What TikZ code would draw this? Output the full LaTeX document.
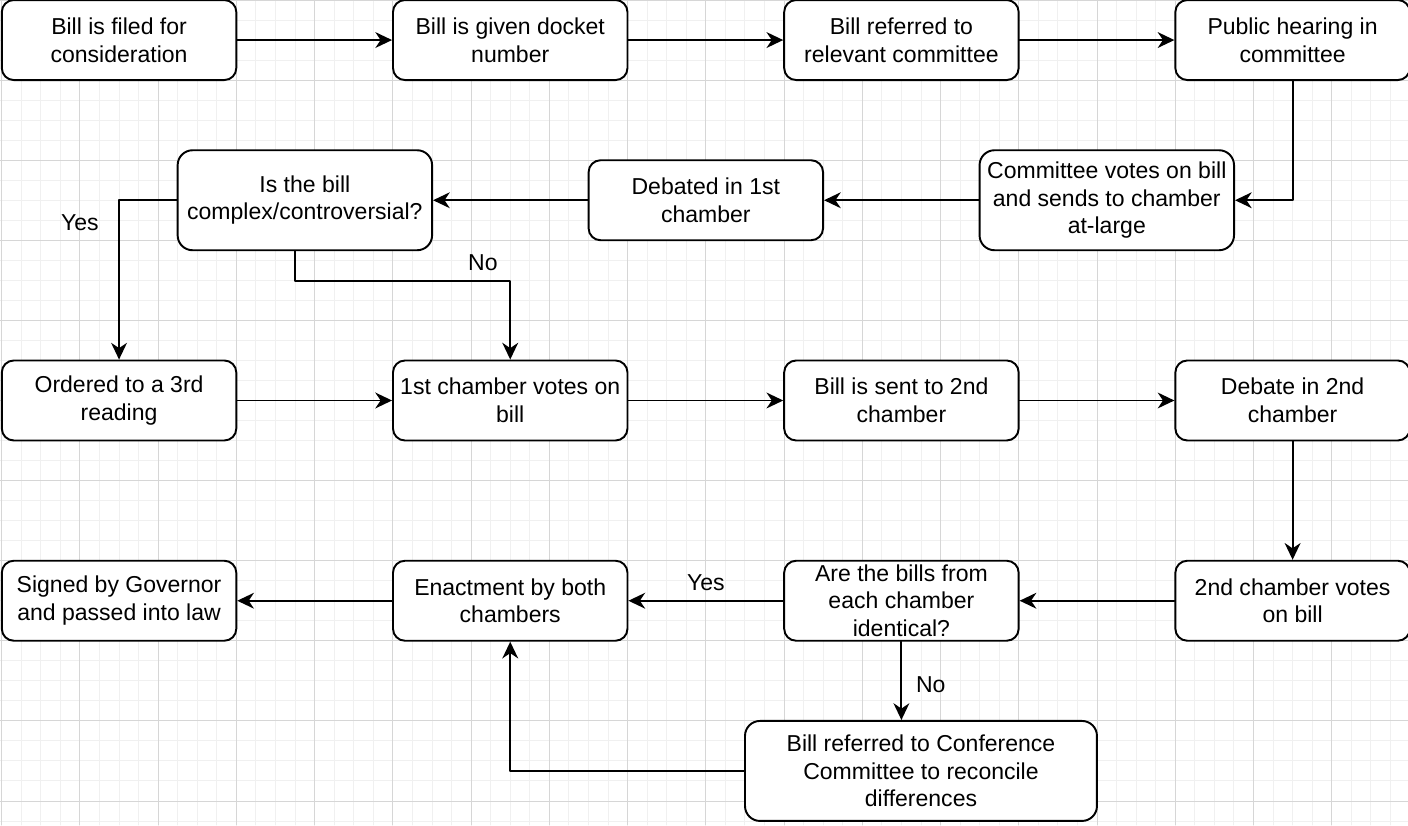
\documentclass[tikz,border=0pt]{standalone}
\usepackage{fontspec}
\setmainfont{Liberation Sans}
\usetikzlibrary{arrows.meta}
\definecolor{gridminor}{RGB}{240,240,240}
\definecolor{gridmajor}{RGB}{214,214,214}
\tikzset{
    stage/.style = {draw, line width=1.1pt, fill=white, rounded corners=6.8pt,
        align=center, inner sep=0pt, minimum width=4.69cm, minimum height=1.6cm,
        font=\fontsize{13.1}{15.7}\selectfont},
    wide/.style = {minimum width=5.09cm, minimum height=2cm, rounded corners=8.5pt},
    flow/.style = {-{Stealth[length=9.5pt, width=9pt, inset=3pt]}, line width=1.1pt},
    tag/.style = {font=\fontsize{13.1}{15.7}\selectfont, inner sep=1pt}
}
\begin{document}
\begin{tikzpicture}[line cap=round,line join=round,x=0.03912cm,y=-0.04005cm]

    \useasboundingbox (-0.87,0) rectangle (719,412);
    \foreach \gx in {0,10,...,710} \draw[gridminor, line width=0.55pt] (\gx,0) -- (\gx,412);
    \foreach \gy in {0,10,...,410} \draw[gridminor, line width=0.55pt] (-1,\gy) -- (719,\gy);
    \foreach \gx in {0,40,...,680} \draw[gridmajor, line width=0.55pt] (\gx,0) -- (\gx,412);
    \foreach \gy in {0,40,...,400} \draw[gridmajor, line width=0.55pt] (-1,\gy) -- (719,\gy);

    \node[stage] (filed) at (60,20) {Bill is filed for\\consideration};
    \node[stage] (docket) at (260,20) {Bill is given docket\\number};
    \node[stage] (referred) at (460,20) {Bill referred to\\relevant committee};
    \node[stage] (hearing) at (660,20) {Public hearing in\\committee};

    \node[stage, wide] (complex) at (155,100) {Is the bill\\complex/controversial?};
    \node[stage] (debated) at (360,100) {Debated in 1st\\chamber};
    \node[stage, wide] (cvotes) at (565,100) {Committee votes on bill\\and sends to chamber\\at-large};

    \node[stage] (third) at (60,200) {Ordered to a 3rd\\reading};
    \node[stage] (firstvote) at (260,200) {1st chamber votes on\\bill};
    \node[stage] (sent) at (460,200) {Bill is sent to 2nd\\chamber};
    \node[stage] (debate2) at (660,200) {Debate in 2nd\\chamber};

    \node[stage] (signed) at (60,300) {Signed by Governor\\and passed into law};
    \node[stage] (enact) at (260,300) {Enactment by both\\chambers};
    \node[stage] (same) at (460,300) {Are the bills from\\each chamber\\identical?};
    \node[stage] (secondvote) at (660,300) {2nd chamber votes\\on bill};

    \node[stage, wide, minimum width=7.04cm] (conf) at (470,385) {Bill referred to Conference\\Committee to reconcile\\differences};

    \draw[flow] (filed) -- (docket);
    \draw[flow] (docket) -- (referred);
    \draw[flow] (referred) -- (hearing);
    \draw[flow] (hearing.south) |- (cvotes.east);
    \draw[flow] (cvotes) -- (debated);
    \draw[flow] (debated) -- (complex);
    \draw[flow] (complex.west) -| (third.north);
    \draw[flow] ([xshift=-0.2cm]complex.south) -- ++(0,15) -| (firstvote.north);
    \draw[flow] (third) -- (firstvote);
    \draw[flow] (firstvote) -- (sent);
    \draw[flow] (sent) -- (debate2);
    \draw[flow] (debate2) -- (secondvote);
    \draw[flow] (secondvote) -- (same);
    \draw[flow] (same) -- (enact);
    \draw[flow] (enact) -- (signed);
    \draw[flow] (same.south) -- (same.south |- conf.north);
    \draw[flow] (conf.west) -| (enact.south);

    \node[tag] (yes1) at (40,111) {Yes};
    \node[tag] (no1) at (246,131) {No};
    \node[tag] (yes2) at (360,291) {Yes};
    \node[tag] (no2) at (475,342) {No};
\end{tikzpicture}
\end{document}
